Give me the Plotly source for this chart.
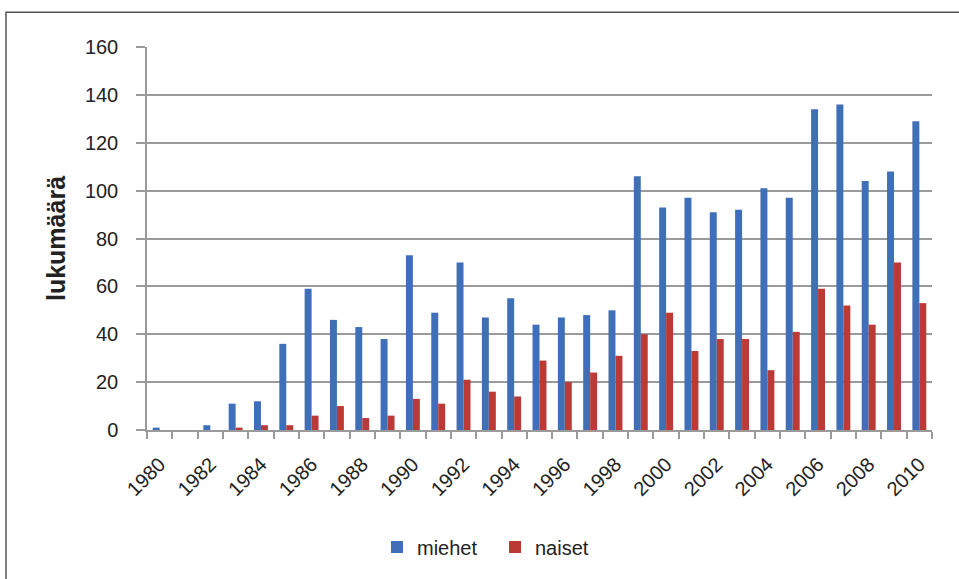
import plotly.graph_objects as go

# Vuosittaiset lukumäärät sukupuolen mukaan
years = list(range(1980, 2011))
miehet = [1, 0, 2, 11, 12, 36, 59, 46, 43, 38, 73, 49, 70, 47, 55, 44,
          47, 48, 50, 106, 93, 97, 91, 92, 101, 97, 134, 136, 104, 108, 129]
naiset = [0, 0, 0, 1, 2, 2, 6, 10, 5, 6, 13, 11, 21, 16, 14, 29,
          20, 24, 31, 40, 49, 33, 38, 38, 25, 41, 59, 52, 44, 70, 53]
label_years = list(range(1980, 2011, 2))
y_ticks = list(range(0, 161, 20))

BLUE = "#3F6FB9"
RED = "#BA3A38"
GRID = "#9a9a9a"
FONT = "Liberation Sans, Arial, sans-serif"

fig = go.Figure()
fig.add_trace(go.Bar(x=years, y=miehet, name="miehet", marker_color=BLUE,
                     marker_line_width=0))
fig.add_trace(go.Bar(x=years, y=naiset, name="naiset", marker_color=RED,
                     marker_line_width=0))

W, H = 959, 579
L, R, T, B = 147, 27, 47, 146
pw, ph = W - L - R, H - T - B

def px_x(x):
    return (x - L) / pw

def px_y(y):
    return (H - B - y) / ph

fig.update_layout(
    width=W, height=H,
    margin=dict(l=L, r=R, t=T, b=B),
    paper_bgcolor="white", plot_bgcolor="white",
    barmode="group", bargap=0.45, bargroupgap=0,
    font=dict(family=FONT, size=20, color="#222222"),
    showlegend=True,
    legend=dict(orientation="h", x=px_x(377), y=px_y(551),
                xanchor="left", yanchor="middle",
                font=dict(size=20, color="#222222"),
                itemwidth=30, entrywidth=73, tracegroupgap=0),
    xaxis=dict(
        range=[1979.5, 2010.5],
        tickmode="array", tickvals=label_years,
        ticktext=[str(v) for v in label_years],
        tickangle=-45, ticks="", showgrid=False,
        showline=True, linecolor=GRID, linewidth=1.5,
        minor=dict(ticks="outside", ticklen=7, tickcolor=GRID,
                   tickwidth=1.5, tick0=1979.5, dtick=1, showgrid=False),
        ticklabelstandoff=13,
        zeroline=False,
    ),
    yaxis=dict(
        range=[0, 160], tickmode="array", tickvals=y_ticks,
        ticks="outside", ticklen=9, tickcolor=GRID, tickwidth=1.5,
        showgrid=True, gridcolor=GRID, gridwidth=1.5,
        showline=True, linecolor=GRID, linewidth=1.5,
        zeroline=False,
        ticklabelstandoff=14,
        title=dict(text="<b>lukumäärä</b>", standoff=12,
                   font=dict(size=25, color="#222222")),
    ),
    shapes=[
        dict(type="rect", xref="paper", yref="paper",
             x0=px_x(6), x1=px_x(W + 10), y0=px_y(H + 10), y1=px_y(12),
             line=dict(color="#555555", width=1.5), fillcolor="rgba(0,0,0,0)",
             layer="above"),
    ],
)

fig.write_html("out.html")
